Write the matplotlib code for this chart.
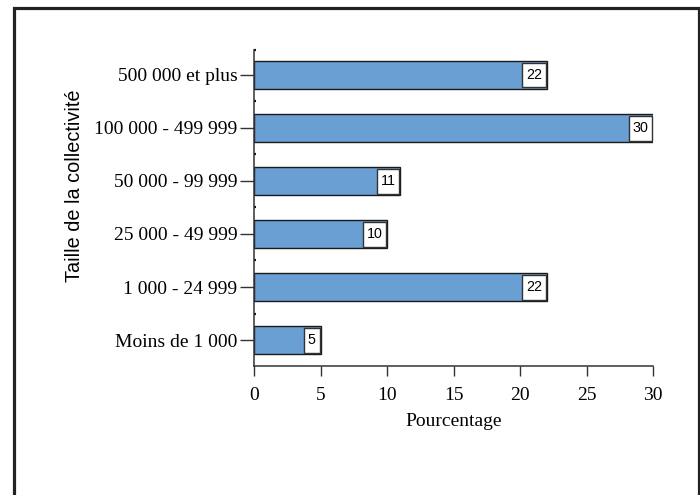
import matplotlib.pyplot as plt
from matplotlib.patches import Rectangle
from matplotlib.path import Path

categories = ["Moins de 1 000", "1 000 - 24 999", "25 000 - 49 999",
              "50 000 - 99 999", "100 000 - 499 999", "500 000 et plus"]
values = [5, 22, 10, 11, 30, 22]
xticks = [0, 5, 10, 15, 20, 25, 30]

serif = "Liberation Serif"
sans = "Liberation Sans"


def tag_box(x0, y0, width, height, mutation_size):
    # square box, more padding vertically than horizontally
    px = 0.27 * mutation_size
    py = 0.36 * mutation_size
    x1, y1 = x0 + width + px, y0 + height + py
    x0, y0 = x0 - px, y0 - py
    return Path([(x0, y0), (x1, y0), (x1, y1), (x0, y1), (x0, y0)], closed=True)


fig = plt.figure(figsize=(7, 4.95), dpi=100)
ax = fig.add_axes([254 / 700, 1 - 366 / 495, (653 - 254) / 700, (366 - 50) / 495])

pos = list(range(len(categories)))
ax.barh(pos, values, height=0.53, color="#6A9FD4", edgecolor="#1a1a1a", linewidth=1.0)

# value boxes at the end of each bar
for y, v in zip(pos, values):
    ax.annotate(str(v), xy=(v, y), xytext=(-3.4, -0.3), textcoords="offset points",
                ha="right", va="center", fontsize=10.3, family=sans,
                bbox=dict(boxstyle=tag_box, fc="white", ec="#333333", lw=1.0))

ax.set_xlim(0, 30)
ax.set_ylim(-0.49, 5.47)
ax.set_xticks(xticks)
ax.set_xticklabels([str(t) for t in xticks], family=serif, fontsize=14)
ax.set_yticks(pos)
ax.set_yticklabels(categories, family=serif, fontsize=14)
ax.set_yticks([p + 0.5 for p in pos[:-1]] + [5.47], minor=True)

for s in ["top", "right"]:
    ax.spines[s].set_visible(False)
for s in ["left", "bottom"]:
    ax.spines[s].set_color("#333333")
    ax.spines[s].set_linewidth(1.1)

ax.tick_params(axis="y", which="major", length=10, width=1, color="#333333", pad=2)
ax.tick_params(axis="y", which="minor", length=1.5, width=1.6, direction="in", color="#111111")
ax.tick_params(axis="x", which="major", length=7, width=1, color="#333333", pad=8)

fig.text(453.5 / 700, 1 - 421 / 495, "Pourcentage", family=serif, fontsize=14,
         ha="center", va="center")
fig.text(75 / 700, 1 - 186 / 495, "Taille de la collectivité", family=sans, fontsize=14.3,
         rotation=90, ha="center", va="center")

# outer frame
fig.patches.append(Rectangle((14.5 / 700, -0.02), (698.5 - 14.5) / 700, 0.02 + 1 - 8.5 / 495,
                             transform=fig.transFigure, fill=False, ec="#222222", lw=2.3))

fig.savefig("out.png", dpi=100)
